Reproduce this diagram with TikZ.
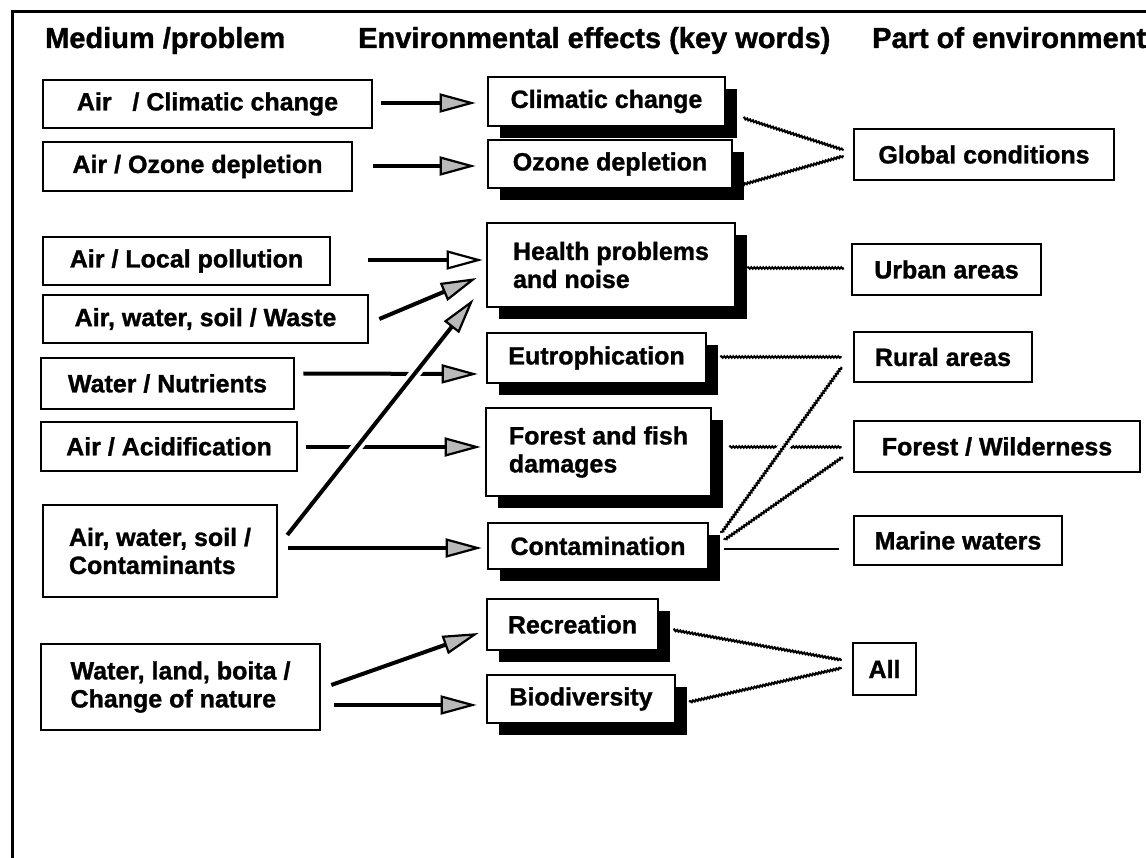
\documentclass[tikz,border=0pt]{standalone}
\usepackage{fontspec}
\setmainfont{Liberation Sans}[BoldFeatures={FakeBold=1.2}]
\usetikzlibrary{arrows.meta, shadows, decorations.pathmorphing}

\tikzset{
  lbox/.style={draw, line width=2.6pt, fill=white, align=left, inner sep=4pt,
    font=\fontsize{25}{28}\selectfont\bfseries},
  ebox/.style={lbox, drop shadow={shadow xshift=12pt, shadow yshift=-12pt, fill=black, opacity=1}},
  head/.style={font=\fontsize{29}{32}\selectfont\bfseries, anchor=base west, inner sep=0pt},
  feed/.style={line width=4pt, -{Triangle[length=36pt, width=19pt, fill=gray!55, line width=2.2pt]}},
  feedopen/.style={line width=4pt, -{Triangle[length=36pt, width=19pt, fill=white, line width=2.2pt]}},
  link/.style={line width=2pt, decorate, decoration={snake, amplitude=0.8pt, segment length=3pt}},
  solidlink/.style={line width=2.8pt},
  bridge/.style={white, line width=11pt},
}

\begin{document}
\begin{tikzpicture}[x=1pt, y=-1pt]
  \useasboundingbox (0,0) rectangle (1146,858);
  % frame
  \draw[line width=3pt] (12,858) -- (12,12) -- (1146,12);
  % column heads
  \node[head] (colmed)  at (45,48)  {Medium /problem};
  \node[head] (colenv)  at (358,48) {Environmental effects (key words)};
  \node[head] (colpart) at (872,48) {Part of environment};
  % medium / problem
  \node[lbox, minimum width=329pt, minimum height=48pt] (airclim)  at (207.5,104) {Air~~~/ Climatic change};
  \node[lbox, minimum width=309pt, minimum height=49pt] (airozone) at (197.5,166.5) {Air / Ozone depletion};
  \node[lbox, minimum width=287pt, minimum height=48pt] (airlocal) at (186.5,261) {Air / Local pollution};
  \node[lbox, minimum width=325pt, minimum height=48pt] (waste)    at (205.5,319) {Air, water, soil / Waste};
  \node[lbox, minimum width=253pt, minimum height=51pt] (nutri)    at (167.5,383.5) {Water / Nutrients};
  \node[lbox, minimum width=256pt, minimum height=49pt] (acid)     at (169,446.5) {Air / Acidification};
  \node[lbox, minimum width=234pt, minimum height=92pt] (contam)   at (160,551) {Air, water, soil /\\Contaminants};
  \node[lbox, minimum width=279pt, minimum height=86pt] (nature)   at (180.5,687) {Water, land, boita /\\Change of nature};
  % effects
  \node[ebox, minimum width=237pt, minimum height=49pt] (climc)  at (606.5,101.5) {Climatic change};
  \node[ebox, minimum width=244pt, minimum height=48pt] (ozone)  at (610,164) {Ozone depletion};
  \node[ebox, minimum width=248pt, minimum height=84pt] (health) at (611,265) {Health problems\\and noise};
  \node[ebox, minimum width=219pt, minimum height=50pt] (eutro)  at (596.5,358) {Eutrophication};
  \node[ebox, minimum width=225pt, minimum height=88pt] (forest) at (598.5,452) {Forest and fish\\damages};
  \node[ebox, minimum width=220pt, minimum height=46pt] (ctmn)   at (598,546) {Contamination};
  \node[ebox, minimum width=171pt, minimum height=51pt] (recr)   at (572.5,624.5) {Recreation};
  \node[ebox, minimum width=188pt, minimum height=48pt] (biodiv) at (581,699) {Biodiversity};
  % parts of environment
  \node[lbox, minimum width=260pt, minimum height=51pt] (glob)   at (984,154.5) {Global conditions};
  \node[lbox, minimum width=189pt, minimum height=51pt] (urban)  at (946.5,269.5) {Urban areas};
  \node[lbox, minimum width=178pt, minimum height=50pt] (rural)  at (943,357) {Rural areas};
  \node[lbox, minimum width=286pt, minimum height=51pt] (wild)   at (997,446.5) {Forest / Wilderness};
  \node[lbox, minimum width=208pt, minimum height=49pt] (marine) at (958,540.5) {Marine waters};
  \node[lbox, minimum width=63pt, minimum height=52pt]  (all)    at (884.5,669) {All};
  % medium -> effect
  \draw[feed] ([xshift=8pt,yshift=1pt]airclim.east) -- ([xshift=-11pt,yshift=-1.5pt]climc.west);
  \draw[feed] ([xshift=20pt,yshift=0.5pt]airozone.east) -- ([xshift=-11pt,yshift=-2pt]ozone.west);
  \draw[feedopen] ([xshift=37pt,yshift=1pt]airlocal.east) -- ([xshift=-3pt,yshift=5pt]health.west);
  \draw[feed] ([xshift=10pt]waste.east) -- ([xshift=-9pt,yshift=-13pt]health.west);
  \draw[feed] ([xshift=8pt,yshift=10pt]nutri.east) -- ([xshift=-8pt,yshift=-16pt]eutro.west);
  \draw[feed] ([xshift=8pt,yshift=-0.5pt]acid.east) -- ([xshift=-4pt,yshift=5pt]forest.west);
  \draw[bridge, shorten <=20pt, shorten >=60pt] ([xshift=9pt,yshift=16pt]contam.east) -- ([xshift=-12pt,yshift=-34pt]health.west);
  \draw[feed] ([xshift=9pt,yshift=16pt]contam.east) -- ([xshift=-12pt,yshift=-34pt]health.west);
  \draw[feed] ([xshift=10pt,yshift=3pt]contam.east) -- ([xshift=-5pt,yshift=-2pt]ctmn.west);
  \draw[feed] ([xshift=10pt,yshift=2pt]nature.east) -- ([xshift=-7pt,yshift=-8.5pt]recr.west);
  \draw[feed] ([xshift=13pt,yshift=-18pt]nature.east) -- ([xshift=-9pt,yshift=-6pt]biodiv.west);
  % effect -> part of environment
  \draw[link] ([xshift=17pt,yshift=-16.5pt]climc.east) -- ([xshift=-9pt,yshift=4.5pt]glob.west);
  \draw[link] ([xshift=8pt,yshift=-21pt]ozone.east) -- ([xshift=-9pt,yshift=-1.5pt]glob.west);
  \draw[link] ([xshift=11pt,yshift=-3pt]health.east) -- ([xshift=-7pt,yshift=1.5pt]urban.west);
  \draw[link] ([xshift=13pt,yshift=1pt]eutro.east) -- ([xshift=-11pt]rural.west);
  \draw[link] ([xshift=17pt,yshift=5pt]forest.east) -- ([xshift=-11pt,yshift=-0.5pt]wild.west);
  \draw[bridge, shorten <=20pt, shorten >=20pt] ([xshift=12pt,yshift=13pt]ctmn.east) -- ([xshift=-11pt,yshift=-10pt]rural.west);
  \draw[link] ([xshift=12pt,yshift=13pt]ctmn.east) -- ([xshift=-11pt,yshift=-10pt]rural.west);
  \draw[link] ([xshift=15pt,yshift=6pt]ctmn.east) -- ([xshift=-10pt,yshift=-10.5pt]wild.west);
  \draw[solidlink] ([xshift=15pt,yshift=-3pt]ctmn.east) -- ([xshift=-14pt,yshift=-8.5pt]marine.west);
  \draw[link] ([xshift=14pt,yshift=-5.5pt]recr.east) -- ([xshift=-10pt,yshift=9pt]all.west);
  \draw[link] ([xshift=13pt,yshift=-3pt]biodiv.east) -- ([xshift=-10pt,yshift=1pt]all.west);
\end{tikzpicture}
\end{document}
